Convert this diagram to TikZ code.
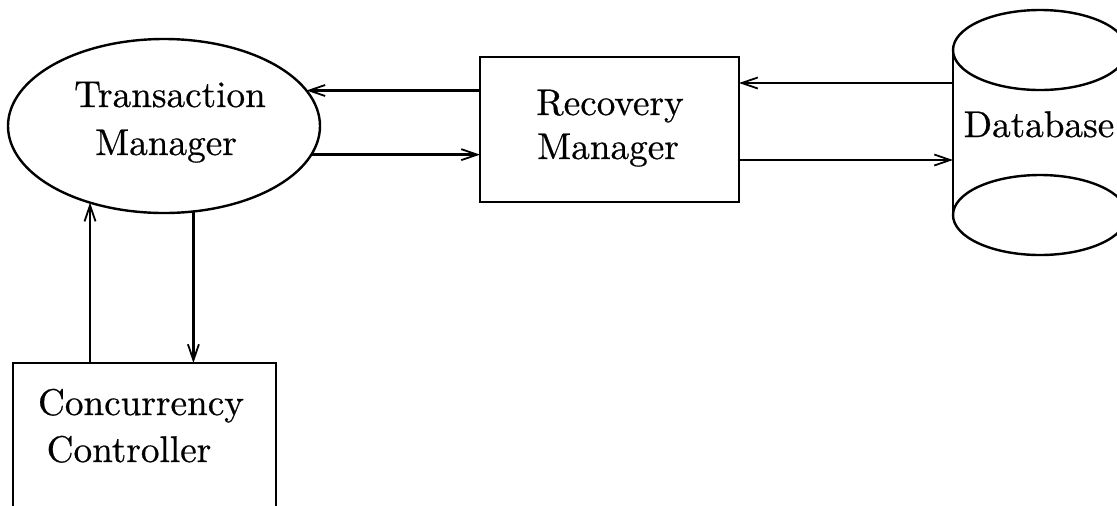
\documentclass[tikz,border=0pt]{standalone}
\usepackage{graphicx}
\usepackage{fontspec}
\usetikzlibrary{shapes.geometric,arrows.meta}

% a slightly heavier cut of the roman face, set at 10pt and enlarged
\newfontfamily\lbfont{Latin Modern Roman}[FakeBold=0.6]
\newcommand{\lbtext}[1]{\scalebox{1.86}{\fontsize{10}{12}\lbfont #1}}

\tikzset{
  every node/.style={inner sep=0pt, outer sep=0pt},
  shapeline/.style={draw, line width=1.2pt},
  lbl/.style={anchor=base},
  arr/.style={line width=1.2pt, -{Straight Barb[length=8pt,width=5.5pt,line width=0.9pt]}},
}

\begin{document}
\begin{tikzpicture}[x=0.5pt, y=-0.5pt]
  \useasboundingbox (0,0) rectangle (1117,505);
  \clip (0,0) rectangle (1117,505);

  % Transaction Manager (ellipse)
  \node[shapeline, ellipse, minimum width=156pt, minimum height=87pt] (tm) at (164,126) {};
  \node[lbl] (tmA) at (170,107) {\lbtext{Transaction}};
  \node[lbl] (tmB) at (166,155) {\lbtext{Manager}};

  % Recovery Manager (box)
  \node[shapeline, rectangle, minimum width=129.5pt, minimum height=72.5pt] (rm) at (609.5,129.5) {};
  \node[lbl] (rmA) at (610,115) {\lbtext{Recovery}};
  \node[lbl] (rmB) at (608,159) {\lbtext{Manager}};

  % Concurrency Controller (box running past the lower edge)
  \node[shapeline, rectangle, minimum width=131.5pt, minimum height=83.5pt] (cc) at (144.5,446.5) {};
  \node[lbl] (ccA) at (141,415) {\lbtext{Concurrency}};
  \node[lbl] (ccB) at (129,462) {\lbtext{Controller}};

  % Database (cylinder with two full end ellipses)
  \node[rectangle, minimum width=87pt, minimum height=82.5pt] (db) at (1040,132.5) {};
  \draw[shapeline] (db.north) ellipse [x radius=87, y radius=40];
  \draw[shapeline] (db.south) ellipse [x radius=87, y radius=40];
  \draw[shapeline] (db.north west) -- (db.south west);
  \draw[shapeline] (db.north east) -- (db.south east);
  \node[lbl] (dbA) at (1039,137) {\lbtext{Database}};
  \coordinate (dbout) at (db.west |- 0,83);
  \coordinate (dbin)  at (db.west |- 0,160);

  % Connectors
  \draw[arr] (rm.west |- tm.14.5) -- (tm.14.5);
  \draw[arr] (tm.-11.75) -- (rm.west |- tm.-11.75);
  \draw[arr] (dbout) -- (rm.east |- dbout);
  \draw[arr] (rm.east |- dbin) -- (dbin);
  \draw[arr] (cc.north -| tm.226.9) -- (tm.226.9);
  \draw[arr] (tm.-71.6) -- (cc.north -| tm.-71.6);
\end{tikzpicture}
\end{document}
